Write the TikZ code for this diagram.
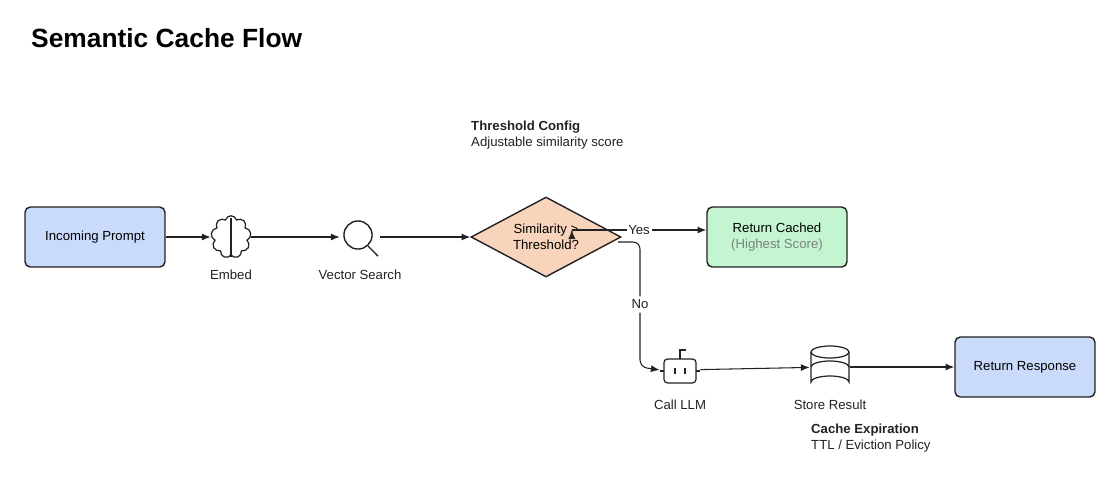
\documentclass[tikz,border=0pt]{standalone}
\usepackage{fontspec}
\setmainfont{Liberation Sans}
\usetikzlibrary{shapes.geometric,shapes.symbols,arrows.meta,positioning}
\definecolor{bluefill}{HTML}{C9DAFA}
\definecolor{greenfill}{HTML}{C2F5D0}
\definecolor{peachfill}{HTML}{F8D4BC}
\definecolor{ink}{HTML}{222222}
\tikzset{
  box/.style={draw=ink,rounded corners=3pt,line width=0.8pt,minimum width=2.8cm,minimum height=1.2cm,align=center,font=\fontsize{7.5}{9}\selectfont},
  icon/.style={minimum size=0.8cm,inner sep=0pt},
  lbl/.style={font=\fontsize{7.5}{9}\selectfont,text=ink},
  flow/.style={-{Latex[length=5pt,width=4pt]},draw=ink,line width=0.6pt},
}
\begin{document}
\begin{tikzpicture}[x=0.02cm,y=-0.02cm]
\useasboundingbox (0,0) rectangle (1120,488);
%Title
\node [anchor=west,font=\bfseries\fontsize{15}{18}\selectfont] (Title) at (25,38) {Semantic Cache Flow};
%Nodes
\node [box,fill=bluefill] (Prompt) at (95,237) {Incoming Prompt};
\node [icon] (Embed) at (231,237) {};
\node [icon] (Search) at (360,237) {};
\node [diamond,draw=ink,fill=peachfill,line width=0.8pt,aspect=1.9,minimum width=3cm,minimum height=1.6cm,inner sep=0pt,align=center,font=\fontsize{7.5}{9}\selectfont] (Check) at (546,237) {Similarity >\\Threshold?};
\node [box,fill=greenfill] (Cached) at (777,237) {Return Cached\\\textcolor{gray}{(Highest Score)}};
\node [icon] (LLM) at (680,370) {};
\node [icon] (Store) at (830,367) {};
\node [box,fill=bluefill] (Response) at (1025,367) {Return Response};
%Node Labels
\node [lbl] at (231,275) {Embed};
\node [lbl] at (360,275) {Vector Search};
\node [lbl] at (680,405) {Call LLM};
\node [lbl] at (830,405) {Store Result};
\node [lbl,anchor=west,align=left] at (465,135) {\textbf{Threshold Config}\\Adjustable similarity score};
\node [lbl,anchor=west,align=left] at (805,438) {\textbf{Cache Expiration}\\TTL / Eviction Policy};
%Icons
\node [cloud,cloud puffs=9,aspect=0.85,draw=ink,line width=0.7pt,minimum width=0.8cm,minimum height=0.85cm] at (Embed) {};
\draw [ink,line width=0.7pt] (231,218) -- (231,257);
\draw [ink,line width=0.8pt] (358,235) circle (8pt);
\draw [ink,line width=0.8pt] (368,246) -- (378,256);
\draw [ink,line width=0.7pt,rounded corners=2pt] (664,359) rectangle (696,383);
\draw [ink,line width=0.7pt] (680,359) -- (680,350) -- (686,350);
\draw [ink,line width=0.7pt] (660,371) -- (664,371) (696,371) -- (700,371);
\draw [ink,line width=0.9pt] (675,368) -- (675,374) (685,368) -- (685,374);
\draw [ink,line width=0.7pt] (811,352) -- (811,382) arc[start angle=180,end angle=360,x radius=19,y radius=6] -- (849,352);
\draw [ink,line width=0.7pt] (830,352) ellipse [x radius=19,y radius=6];
\draw [ink,line width=0.7pt] (811,367) arc[start angle=180,end angle=360,x radius=19,y radius=6];
%Connections
\draw [flow] (Prompt) -- (Embed);
\draw [flow] (Embed) -- (Search);
\draw [flow] (Search) -- (Check);
\draw [flow] (Check.north east |- 0,230) ++(-12,0) coordinate (YesStart);
\draw [flow] (YesStart) -- node [lbl,fill=white,inner sep=1pt] {Yes} (Cached.west |- YesStart);
\coordinate (NoStart) at (618,242);
\draw [flow,rounded corners=4pt] (NoStart) -- (640,242) -- node [lbl,fill=white,inner sep=2pt] {No} (640,367) -- (LLM.west);
\draw [flow] (LLM) -- (Store);
\draw [flow] (Store) -- (Response);
\end{tikzpicture}
\end{document}
